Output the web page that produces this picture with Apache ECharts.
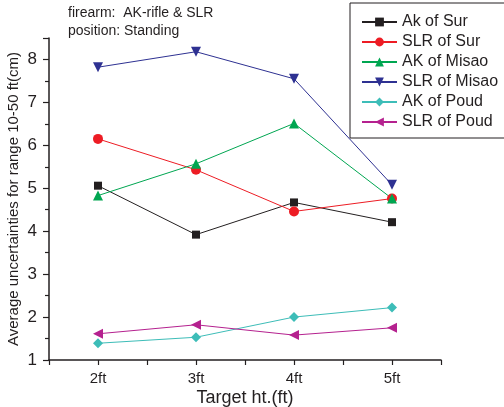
<!DOCTYPE html>
<html><head><meta charset="utf-8">
<script src="https://cdn.jsdelivr.net/npm/echarts@6/dist/echarts.min.js"></script>
<style>html,body{margin:0;padding:0;background:#fff}#c{width:504px;height:407px}</style>
</head><body><div id="c"></div>
<script>
var categories = ['2ft', '3ft', '4ft', '5ft'];
var xValues = [2, 3, 4, 5];
var akSur = [5.06, 3.92, 4.67, 4.21];
var slrSur = [6.15, 5.43, 4.46, 4.76];
var akMisao = [4.83, 5.57, 6.51, 4.76];
var slrMisao = [7.82, 8.18, 7.55, 5.08];
var akPoud = [1.39, 1.53, 2.0, 2.22];
var slrPoud = [1.61, 1.82, 1.58, 1.75];
var yTicks = [1, 2, 3, 4, 5, 6, 7, 8];

function pts(arr) { return arr.map(function (v, i) { return [xValues[i], v]; }); }
var font = 'Liberation Sans, Arial, sans-serif';
function ser(name, data, color, symbol, rot, size) {
  return {
    name: name, type: 'line', data: pts(data), symbol: symbol, symbolSize: size || 9,
    symbolRotate: rot || 0,
    lineStyle: { color: color, width: 1 }, itemStyle: { color: color }, z: 3
  };
}
var chart = echarts.init(document.getElementById('c'), null, { renderer: 'canvas' });
chart.setOption({
  animation: false,
  backgroundColor: '#fff',
  grid: { left: 49, right: 63, top: 38, bottom: 47, containLabel: false, outerBoundsMode: 'none' },
  graphic: [
    { type: 'text', left: 68, top: 6, style: { text: 'firearm:  AK-rifle & SLR', font: '14px ' + font, fill: '#231f20' } },
    { type: 'text', left: 68, top: 24, style: { text: 'position: Standing', font: '14px ' + font, fill: '#231f20' } }
  ],
  legend: {
    left: 350, top: 3, orient: 'vertical', itemGap: 4, itemWidth: 35, itemHeight: 11,
    padding: [11, 12, 8, 11],
    borderColor: '#231f20', borderWidth: 1, backgroundColor: '#fff',
    textStyle: { fontSize: 16, fontFamily: font, color: '#231f20', padding: [0, 0, 0, 0] },
    data: ['Ak of Sur', 'SLR of Sur', 'AK of Misao', 'SLR of Misao', 'AK of Poud', 'SLR of Poud']
  },
  xAxis: {
    type: 'value', min: 1.5, max: 5.5, interval: 0.5,
    name: 'Target ht.(ft)', nameLocation: 'middle', nameGap: 29, nameMoveOverlap: false,
    nameTextStyle: { fontSize: 18, fontFamily: font, color: '#231f20' },
    axisLine: { lineStyle: { color: '#231f20', width: 1.5 } },
    axisTick: { inside: false, length: 5, lineStyle: { color: '#231f20', width: 1.2 } },
    axisLabel: {
      fontSize: 15, fontFamily: font, color: '#231f20', margin: 11,
      formatter: function (v) { var i = xValues.indexOf(v); return i >= 0 ? categories[i] : ''; }
    },
    splitLine: { show: false }
  },
  yAxis: {
    type: 'value', min: 1, max: 8.5, interval: 1,
    name: 'Average uncertainties for range 10-50 ft(cm)', nameLocation: 'middle', nameGap: 28, nameMoveOverlap: false,
    nameTextStyle: { fontSize: 15, fontFamily: font, color: '#231f20' },
    axisLine: { show: true, lineStyle: { color: '#231f20', width: 1.5 } },
    axisTick: { show: true, length: 6, lineStyle: { color: '#231f20', width: 1.2 } },
    minorTick: { show: true, splitNumber: 2, length: 4, lineStyle: { color: '#231f20', width: 1.2 } },
    axisLabel: {
      fontSize: 17, fontFamily: font, color: '#231f20', margin: 12,
      formatter: function (v) { return yTicks.indexOf(v) >= 0 ? String(v) : ''; }
    },
    splitLine: { show: false }
  },
  series: [
    ser('Ak of Sur', akSur, '#231f20', 'rect', 0, 8),
    ser('SLR of Sur', slrSur, '#ed1c24', 'circle', 0, 10),
    ser('AK of Misao', akMisao, '#00a651', 'triangle', 0, 10),
    ser('SLR of Misao', slrMisao, '#2e3192', 'triangle', 180, 10),
    ser('AK of Poud', akPoud, '#3dbdb8', 'diamond', 0, 10),
    ser('SLR of Poud', slrPoud, '#b5218f', 'triangle', 90, 10)
  ]
});
</script></body></html>
